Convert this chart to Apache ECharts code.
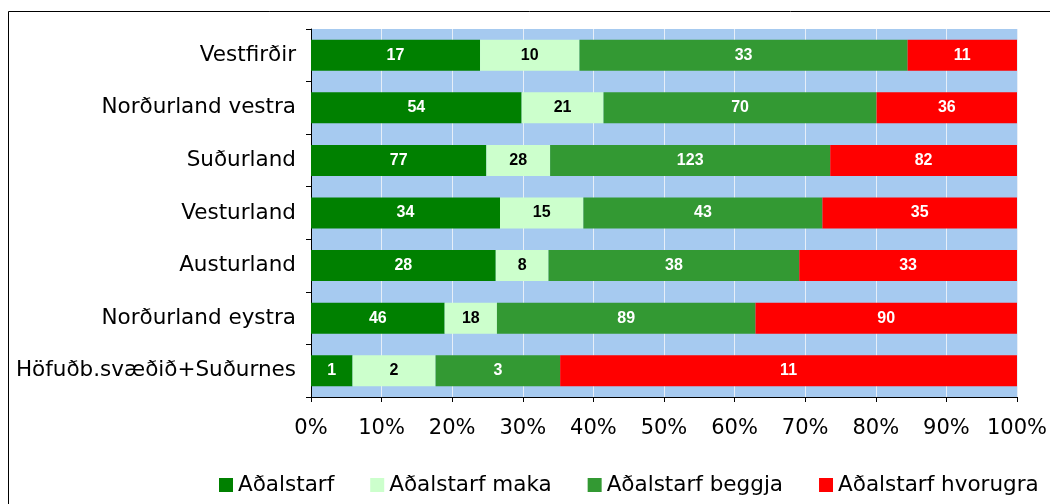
<!DOCTYPE html>
<html>
<head>
<meta charset="utf-8">
<script src="https://cdn.jsdelivr.net/npm/echarts@6/dist/echarts.min.js"></script>
<style>
  html, body { margin: 0; padding: 0; background: #fff; }
  #chart-panel { width: 1050px; height: 504px; }
</style>
</head>
<body>
<div id="chart-panel"></div>
<script>
// regions, top to bottom
var regions = ['Vestfirðir', 'Norðurland vestra', 'Suðurland', 'Vesturland',
    'Austurland', 'Norðurland eystra', 'Höfuðb.svæðið+Suðurnes'];

var adalstarf        = [17, 54, 77, 34, 28, 46, 1];
var adalstarfMaka    = [10, 21, 28, 15, 8, 18, 2];
var adalstarfBeggja  = [33, 70, 123, 43, 38, 89, 3];
var adalstarfHvorugra = [11, 36, 82, 35, 33, 90, 11];

var seriesNames = ['Aðalstarf', 'Aðalstarf maka', 'Aðalstarf beggja', 'Aðalstarf hvorugra'];
var seriesColors = ['#008000', '#CCFFCC', '#339933', '#FF0000'];
var labelColors = ['#FFFFFF', '#000000', '#FFFFFF', '#FFFFFF'];

var xTicks = [0, 10, 20, 30, 40, 50, 60, 70, 80, 90, 100];

var counts = [adalstarf, adalstarfMaka, adalstarfBeggja, adalstarfHvorugra];

var totals = regions.map(function (r, i) {
    var s = 0;
    for (var k = 0; k < counts.length; k++) s += counts[k][i];
    return s;
});

var series = counts.map(function (arr, k) {
    return {
        name: seriesNames[k],
        type: 'bar',
        stack: 'total',
        barWidth: '59%',
        itemStyle: { color: seriesColors[k] },
        label: {
            show: true,
            position: 'inside',
            color: labelColors[k],
            fontFamily: 'Liberation Sans',
            fontWeight: 'bold',
            fontSize: 16,
            formatter: function (p) { return arr[p.dataIndex]; }
        },
        data: arr.map(function (v, i) { return v / totals[i] * 100; })
    };
});

var option = {
    animation: false,
    backgroundColor: '#FFFFFF',
    graphic: [{
        type: 'rect',
        shape: { x: 8.5, y: 11.5, width: 1200, height: 600 },
        style: { fill: 'none', stroke: '#000', lineWidth: 1 },
        silent: true
    }, {
        type: 'rect',
        z: -1,
        shape: { x: 311, y: 29, width: 706, height: 368 },
        style: { fill: '#A6CAF0' },
        silent: true
    }],
    grid: {
        left: 311,
        right: 33,
        top: 29,
        bottom: 107,
        containLabel: false
    },
    legend: {
        left: 214,
        top: 469,
        width: 1000,
        itemWidth: 14,
        itemHeight: 14,
        itemGap: 36,
        icon: 'rect',
        textStyle: {
            fontFamily: 'DejaVu Sans',
            fontSize: 21.5,
            color: '#000'
        },
        data: seriesNames
    },
    xAxis: {
        type: 'value',
        min: 0,
        max: 100,
        interval: 10,
        axisLine: { show: true, lineStyle: { color: '#000', width: 1 } },
        axisTick: { show: true, length: 5, lineStyle: { color: '#000' } },
        axisLabel: {
            formatter: function (v) { return xTicks.indexOf(v) >= 0 ? v + '%' : ''; },
            fontFamily: 'DejaVu Sans',
            fontSize: 21,
            color: '#000',
            margin: 21
        },
        splitLine: { show: true, lineStyle: { color: '#E6EEF8', width: 1 } }
    },
    yAxis: {
        type: 'category',
        inverse: true,
        data: regions,
        axisLine: { show: true, lineStyle: { color: '#000', width: 1 } },
        axisTick: { show: true, length: 5, lineStyle: { color: '#000' } },
        axisLabel: {
            fontFamily: 'DejaVu Sans',
            fontSize: 21.5,
            color: '#000',
            margin: 15
        },
        splitLine: { show: false }
    },
    series: series
};

var myChart = echarts.init(document.getElementById('chart-panel'));
myChart.setOption(option);
</script>
</body>
</html>
